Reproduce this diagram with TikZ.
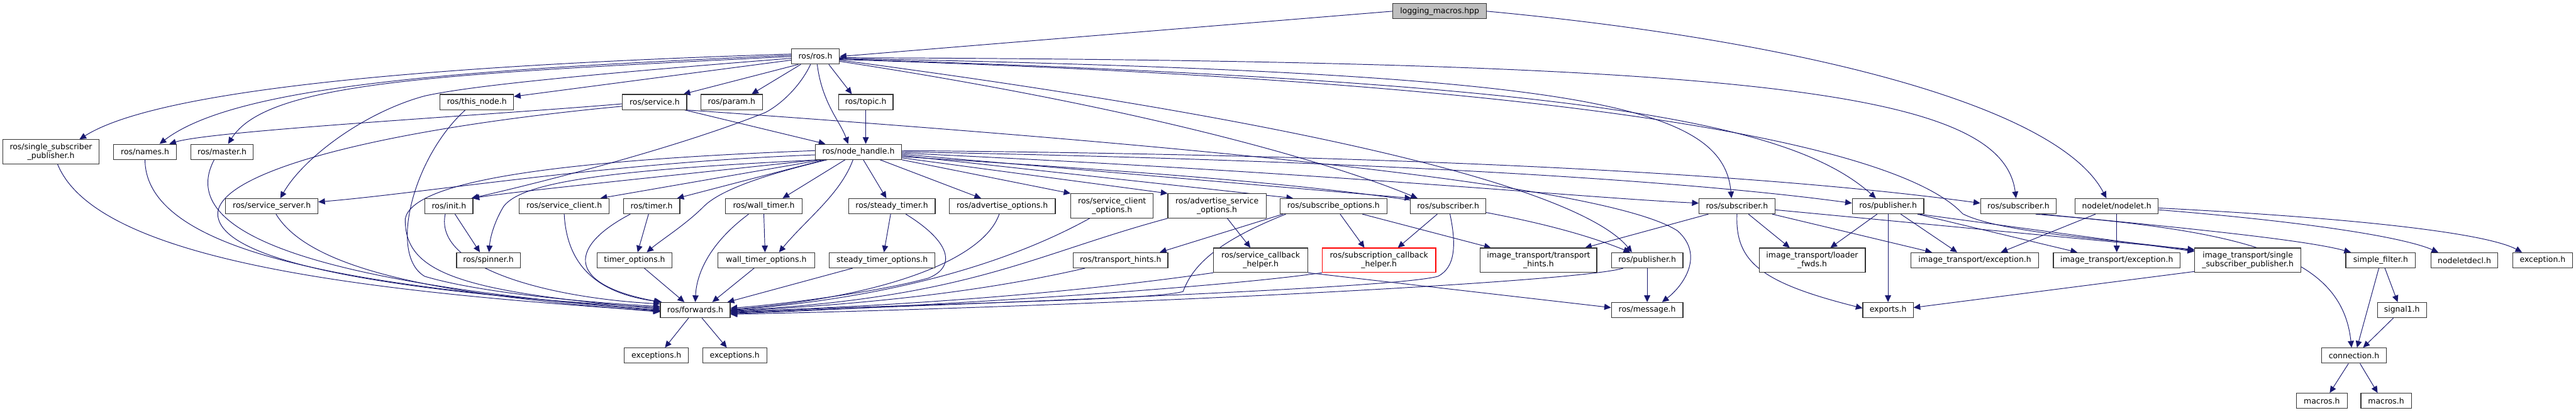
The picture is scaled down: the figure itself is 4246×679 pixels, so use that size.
\documentclass[tikz,border=0pt]{standalone}
\usepackage{fontspec}
\setmainfont{DejaVu Sans}
\usetikzlibrary{arrows.meta,calc}
\definecolor{edgec}{HTML}{191970}
\definecolor{boxgray}{HTML}{BFBFBF}
\pgfdeclarelayer{bg}
\pgfsetlayers{bg,main}
\tikzset{
  box/.style={draw=black!80, fill=white, line width=1.2pt, minimum height=25pt,
    inner xsep=2pt, inner ysep=2pt, align=center,
    font=\fontsize{12.9}{14}\selectfont},
  box2/.style={box, minimum height=40pt},
  edge/.style={draw=edgec, line width=1pt, -{Triangle[length=11pt,width=10pt]}},
}
\begin{document}
\begin{tikzpicture}[x=1pt,y=-1pt]
\useasboundingbox (0,0) rectangle (4246,679);
% row 0-3
\node[box, fill=boxgray, minimum width=154pt] (logging) at (2373,18.5) {logging\_macros.hpp};
\node[box, minimum width=79pt] (rosh) at (1344,93) {ros/ros.h};
\node[box, minimum width=121pt] (thisnode) at (786,168) {ros/this\_node.h};
\node[box, minimum width=106pt] (service) at (1079,168) {ros/service.h};
\node[box, minimum width=101pt] (param) at (1206,168) {ros/param.h};
\node[box, minimum width=90pt] (topic) at (1427,168) {ros/topic.h};
\node[box2, minimum width=159pt] (ssp) at (84,250) {ros/single\_subscriber\\\_publisher.h};
\node[box, minimum width=103pt] (names) at (239,250) {ros/names.h};
\node[box, minimum width=103pt] (master) at (366,250) {ros/master.h};
\node[box, minimum width=142pt] (nh) at (1415,250) {ros/node\_handle.h};
% row 4
\node[box, minimum width=152pt] (sserver) at (448,339.5) {ros/service\_server.h};
\node[box, minimum width=79pt] (init) at (740,339.5) {ros/init.h};
\node[box, minimum width=148pt] (sclient) at (930,339.5) {ros/service\_client.h};
\node[box, minimum width=93pt] (timer) at (1074,339.5) {ros/timer.h};
\node[box, minimum width=127pt] (wtimer) at (1259,339.5) {ros/wall\_timer.h};
\node[box, minimum width=143pt] (stimer) at (1470,339.5) {ros/steady\_timer.h};
\node[box, minimum width=175pt] (advopt) at (1652,339.5) {ros/advertise\_options.h};
\node[box2, minimum width=136pt] (scopt) at (1833,339) {ros/service\_client\\\_options.h};
\node[box2, minimum width=162pt] (asopt) at (2006,339) {ros/advertise\_service\\\_options.h};
\node[box, minimum width=176pt] (subopt) at (2198,339.5) {ros/subscribe\_options.h};
\node[box, minimum width=124pt] (sub1) at (2387,339.5) {ros/subscriber.h};
\node[box, minimum width=125pt] (sub2) at (2863,339.5) {ros/subscriber.h};
\node[box, minimum width=118pt] (pub2) at (3112,339.5) {ros/publisher.h};
\node[box, minimum width=125pt] (sub3) at (3327,339.5) {ros/subscriber.h};
\node[box, minimum width=137pt] (nodelet) at (3489,339.5) {nodelet/nodelet.h};
% row 5
\node[box, minimum width=105pt] (spinner) at (805,428.5) {ros/spinner.h};
\node[box, minimum width=124pt] (topt) at (1046,428.5) {timer\_options.h};
\node[box, minimum width=159pt] (wtopt) at (1263,428.5) {wall\_timer\_options.h};
\node[box, minimum width=174pt] (stopt) at (1454,428.5) {steady\_timer\_options.h};
\node[box, minimum width=156pt] (thints) at (1847,428.5) {ros/transport\_hints.h};
\node[box2, minimum width=155pt] (scbh) at (2078,428.5) {ros/service\_callback\\\_helper.h};
\node[box2, draw=red, minimum width=187pt] (subcbh) at (2273,428.5) {ros/subscription\_callback\\\_helper.h};
\node[box2, minimum width=192pt] (itth) at (2536,428.5) {image\_transport/transport\\\_hints.h};
\node[box, minimum width=118pt] (pub1) at (2715,428.5) {ros/publisher.h};
\node[box2, minimum width=175pt] (itlf) at (2987,428.5) {image\_transport/loader\\\_fwds.h};
\node[box, minimum width=210pt] (itexc1) at (3255,428.5) {image\_transport/exception.h};
\node[box, minimum width=209pt] (itexc2) at (3489,428.5) {image\_transport/exception.h};
\node[box2, minimum width=175pt] (itssp) at (3705,428.5) {image\_transport/single\\\_subscriber\_publisher.h};
\node[box, minimum width=115pt] (sfilter) at (3924,428.5) {simple\_filter.h};
\node[box, minimum width=110pt] (ndecl) at (4062,428.5) {nodeletdecl.h};
\node[box, minimum width=99pt] (exch) at (4191,428.5) {exception.h};
% row 6-8
\node[box, minimum width=115pt] (fwd) at (1146,510.5) {ros/forwards.h};
\node[box, minimum width=118pt] (msg) at (2715,510.5) {ros/message.h};
\node[box, minimum width=83pt] (exports) at (3112,510.5) {exports.h};
\node[box, minimum width=81pt] (signal1) at (3959,510.5) {signal1.h};
\node[box, minimum width=106pt] (exc1) at (1082,585.5) {exceptions.h};
\node[box, minimum width=106pt] (exc2) at (1211,585.5) {exceptions.h};
\node[box, minimum width=106pt] (conn) at (3880,585.5) {connection.h};
\node[box, minimum width=84pt] (mac1) at (3827,660) {macros.h};
\node[box, minimum width=83pt] (mac2) at (3933,660) {macros.h};

\begin{pgfonlayer}{bg}
% logging
\draw[edge] (logging.west) -- (rosh.east);
\draw[edge] (logging.east) .. controls (2950,65) and (3390,170) .. ($(nodelet.north)+(-17,0)$);
% ros.h
\draw[edge] ($(rosh.west)+(0,-4)$) .. controls (700,108) and (260,148) .. ($(ssp.north)+(47,0)$);
\draw[edge] ($(rosh.west)+(0,-2)$) .. controls (760,115) and (390,140) .. ($(names.north)+(24,0)$);
\draw[edge] (rosh.west) .. controls (720,122) and (440,135) .. ($(master.north)+(10,0)$);
\draw[edge] ($(rosh.west)+(0,3)$) .. controls (1000,120) and (780,140) .. (700,158) .. controls (600,185) and (500,260) .. ($(sserver.north)+(14,0)$);
\draw[edge] ($(rosh.west)+(0,6)$) -- ($(thisnode.north east)+(0,4)$);
\draw[edge] ($(rosh.south west)+(12,0)$) -- ($(service.north east)+(-6,0)$);
\draw[edge] ($(rosh.south west)+(16,0)$) -- ($(param.north)+(33,0)$);
\draw[edge] ($(rosh.south east)+(-18,0)$) -- ($(topic.north)+(-23,0)$);
\draw[edge] ($(rosh.south)+(3,0)$) .. controls (1355,170) and (1385,200) .. ($(nh.north)+(-17,0)$);
\draw[edge] ($(rosh.south)+(-8,0)$) .. controls (1320,140) and (1290,170) .. (1262,185) .. controls (1100,250) and (850,310) .. ($(init.north east)+(-3,0)$);
\draw[edge] ($(rosh.east)+(0,8)$) .. controls (1900,180) and (2200,270) .. ($(sub1.north west)+(12,0)$);
\draw[edge] ($(rosh.east)+(0,6)$) .. controls (2300,220) and (2620,330) .. ($(pub1.north)+(-25,0)$);
\draw[edge] ($(rosh.east)+(0,3)$) .. controls (2600,120) and (2840,170) .. ($(sub2.north)+(-9,0)$);
\draw[edge] ($(rosh.east)+(0,4)$) .. controls (2600,135) and (2950,200) .. ($(pub2.north)+(-20,0)$);
\draw[edge] ($(rosh.east)+(0,2)$) .. controls (2900,100) and (3300,150) .. ($(sub3.north)+(-4,0)$);
\draw[edge] ($(rosh.east)+(0,5)$) .. controls (2750,140) and (3150,260) .. (3235,352) .. controls (3300,385) and (3500,395) .. ($(itssp.north west)+(0,5)$);
% node_handle
\draw[edge] ($(nh.west)+(0,5)$) .. controls (1000,268) and (700,318) .. ($(sserver.east)+(0,-7)$);
\draw[edge] ($(nh.south west)+(4,0)$) .. controls (1100,290) and (850,315) .. ($(init.north east)+(-1,0)$);
\draw[edge] ($(nh.south west)+(8,0)$) .. controls (1000,280) and (860,300) .. (830,340) .. controls (815,365) and (808,390) .. ($(spinner.north)+(1,0)$);
\draw[edge] ($(nh.south west)+(12,0)$) -- ($(sclient.north east)+(-15,0)$);
\draw[edge] ($(nh.south west)+(16,0)$) -- ($(timer.north east)+(-5,0)$);
\draw[edge] ($(nh.south west)+(20,0)$) .. controls (1250,290) and (1185,315) .. (1160,340) .. controls (1130,370) and (1090,395) .. ($(topt.north)+(20,0)$);
\draw[edge] ($(nh.south)+(-22,0)$) -- ($(wtimer.north)+(31,0)$);
\draw[edge] ($(nh.south)+(-9,0)$) .. controls (1385,320) and (1330,360) .. ($(wtopt.north)+(21,0)$);
\draw[edge] ($(nh.south)+(8,0)$) -- ($(stimer.north)+(-9,0)$);
\draw[edge] ($(nh.south east)+(-36,0)$) -- ($(advopt.north)+(-35,0)$);
\draw[edge] (nh.south east) -- (scopt.north west);
\draw[edge] ($(nh.east)+(0,10)$) -- (asopt.north west);
\draw[edge] ($(nh.east)+(0,6)$) -- ($(subopt.north west)+(22,0)$);
\draw[edge] ($(nh.east)+(0,4)$) -- ($(sub1.north west)+(2,0)$);
\draw[edge] ($(nh.east)+(0,8)$) .. controls (2000,290) and (2450,320) .. ($(pub1.north)+(-28,0)$);
\draw[edge] ($(nh.east)+(0,2)$) .. controls (2200,285) and (2600,325) .. ($(sub2.west)+(0,-5)$);
\draw[edge] (nh.east) .. controls (2300,265) and (2800,300) .. ($(pub2.west)+(0,-5)$);
\draw[edge] ($(nh.east)+(0,-2)$) .. controls (2300,255) and (2900,285) .. ($(sub3.west)+(0,-5)$);
\draw[edge] ($(nh.west)+(0,-2)$) .. controls (900,265) and (680,300) .. (668,360) .. controls (666,450) and (760,480) .. ($(fwd.west)+(0,-2)$);
% service, topic, this_node
\draw[edge] ($(service.west)+(0,3)$) .. controls (800,190) and (350,215) .. ($(names.north east)+(-12,0)$);
\draw[edge] ($(service.west)+(0,7)$) .. controls (600,215) and (340,290) .. (360,360) .. controls (380,440) and (700,485) .. ($(fwd.west)+(0,-4)$);
\draw[edge] ($(service.south east)+(-4,0)$) -- ($(nh.north west)+(17,0)$);
\draw[edge] ($(service.south east)+(-1,0)$) .. controls (1900,235) and (2640,300) .. (2765,380) .. controls (2810,420) and (2775,470) .. ($(msg.north east)+(-35,0)$);
\draw[edge] (topic.south) -- ($(nh.north)+(12,0)$);
\draw[edge] ($(thisnode.south west)+(42,0)$) .. controls (680,260) and (640,420) .. (700,455) .. controls (800,485) and (1000,500) .. ($(fwd.west)+(0,-6)$);
% into forwards from the left
\draw[edge] ($(ssp.south)+(11,0)$) .. controls (160,430) and (600,480) .. ($(fwd.west)+(0,2)$);
\draw[edge] (names.south) .. controls (240,440) and (700,478) .. (fwd.west);
\draw[edge] ($(master.south)+(-13,0)$) .. controls (270,420) and (700,480) .. ($(fwd.west)+(0,1)$);
\draw[edge] ($(sserver.south)+(7,0)$) .. controls (520,460) and (800,490) .. ($(fwd.west)+(0,3)$);
\draw[edge] ($(init.south west)+(34,0)$) .. controls (715,440) and (900,490) .. ($(fwd.north west)+(0,3)$);
\draw[edge] ($(init.south)+(10,0)$) -- ($(spinner.north)+(-14,0)$);
\draw[edge] (sclient.south) .. controls (935,450) and (1000,485) .. ($(fwd.north west)+(3,0)$);
\draw[edge] ($(timer.south west)+(12,0)$) .. controls (930,410) and (940,470) .. ($(fwd.north west)+(1,0)$);
\draw[edge] ($(timer.south)+(-5,0)$) -- ($(topt.north)+(5,0)$);
\draw[edge] ($(topt.south)+(16,0)$) -- ($(fwd.north)+(-18,0)$);
\draw[edge] (wtimer.south) -- ($(wtopt.north)+(-2,0)$);
\draw[edge] ($(wtimer.south)+(-25,0)$) .. controls (1170,400) and (1148,450) .. (fwd.north);
\draw[edge] ($(wtopt.south)+(-20,0)$) -- ($(fwd.north east)+(-30,0)$);
\draw[edge] ($(stimer.south)+(-2,0)$) -- ($(stopt.north)+(3,0)$);
% into forwards from the right
\draw[edge] ($(stimer.south)+(23,0)$) .. controls (1570,400) and (1575,440) .. (1530,458) .. controls (1450,480) and (1300,500) .. ($(fwd.east)+(0,-3)$);
\draw[edge] ($(stopt.south west)+(39,0)$) -- ($(fwd.north east)+(-5,0)$);
\draw[edge] ($(advopt.south)+(-5,0)$) .. controls (1620,430) and (1450,490) .. ($(fwd.east)+(0,-1)$);
\draw[edge] ($(scopt.south)+(-37,0)$) .. controls (1650,440) and (1450,492) .. (fwd.east);
\draw[edge] (asopt.south west) .. controls (1700,420) and (1600,490) .. ($(fwd.east)+(0,1)$);
\draw[edge] ($(asopt.south)+(17,0)$) -- ($(scbh.north)+(-17,0)$);
\draw[edge] ($(thints.south west)+(20,0)$) .. controls (1600,485) and (1400,502) .. ($(fwd.east)+(0,2)$);
\draw[edge] (scbh.south west) .. controls (1700,492) and (1400,506) .. ($(fwd.east)+(0,3)$);
\draw[edge] (scbh.south east) -- ($(msg.west)+(0,-4)$);
\draw[edge] ($(subopt.south west)+(5,0)$) -- ($(thints.north east)+(-14,0)$);
\draw[edge] ($(subopt.south west)+(10,0)$) .. controls (2000,400) and (1965,440) .. (1950,480) .. controls (1900,495) and (1500,500) .. ($(fwd.east)+(0,4)$);
\draw[edge] ($(subopt.south)+(11,0)$) -- ($(subcbh.north)+(-24,0)$);
\draw[edge] ($(subopt.south east)+(-41,0)$) -- ($(itth.north west)+(18,0)$);
\draw[edge] ($(sub1.south)+(-18,0)$) -- ($(subcbh.north)+(31,0)$);
\draw[edge] ($(sub1.south)+(3,0)$) .. controls (2400,400) and (2400,440) .. (2370,455) .. controls (2300,475) and (1600,500) .. ($(fwd.east)+(0,5)$);
\draw[edge] (subcbh.south west) .. controls (2000,475) and (1500,506) .. ($(fwd.east)+(0,6)$);
\draw[edge] ($(pub1.south west)+(20,0)$) .. controls (2600,465) and (1800,505) .. ($(fwd.east)+(0,7)$);
\draw[edge] (pub1.south) -- (msg.north);
% image_transport side
\draw[edge] ($(sub2.south west)+(16,0)$) -- ($(itth.north east)+(-20,0)$);
\draw[edge] ($(sub2.south)+(19,0)$) -- ($(itlf.north)+(-37,0)$);
\draw[edge] (sub2.south) .. controls (2860,430) and (2900,465) .. ($(exports.west)+(0,-3)$);
\draw[edge] ($(sub2.south east)+(-5,0)$) -- ($(itexc1.north west)+(35,0)$);
\draw[edge] ($(sub2.east)+(0,6)$) -- ($(itssp.north west)+(0,3)$);
\draw[edge] ($(pub2.south)+(-18,0)$) -- ($(itlf.north)+(30,0)$);
\draw[edge] (pub2.south) -- (exports.north);
\draw[edge] ($(pub2.south)+(21,0)$) -- ($(itexc1.north)+(-29,0)$);
\draw[edge] ($(pub2.south east)+(-11,0)$) -- ($(itexc2.north west)+(40,0)$);
\draw[edge] ($(pub2.south east)+(-8,0)$) -- ($(itssp.north west)+(0,6)$);
\draw[edge] ($(itssp.south west)+(0,-2)$) -- ($(exports.east)+(0,-4)$);
\draw[edge] ($(nodelet.south)+(-35,0)$) -- ($(itexc1.north)+(43,0)$);
\draw[edge] (nodelet.south) -- (itexc2.north);
\draw[edge] ($(nodelet.east)+(0,6)$) .. controls (3800,365) and (3960,390) .. ($(ndecl.north)+(-43,0)$);
\draw[edge] ($(nodelet.east)+(0,3)$) .. controls (3900,360) and (4100,385) .. ($(exch.north)+(-34,0)$);
\draw[edge] ($(sub3.south east)+(-25,0)$) .. controls (3600,375) and (3800,395) .. ($(sfilter.north west)+(9,0)$);
\draw[edge] ($(sub3.south east)+(-35,0)$) .. controls (3700,380) and (3860,420) .. ($(conn.north)+(-4,0)$);
\draw[edge] ($(sfilter.south)+(-3,0)$) -- ($(conn.north)+(5,0)$);
\draw[edge] ($(sfilter.south)+(7,0)$) -- ($(signal1.north)+(-7,0)$);
\draw[edge] ($(signal1.south)+(-14,0)$) -- ($(conn.north)+(15,0)$);
\draw[edge] ($(conn.south)+(-9,0)$) -- ($(mac1.north)+(13,0)$);
\draw[edge] ($(conn.south)+(10,0)$) -- ($(mac2.north)+(-14,0)$);
\draw[edge] ($(fwd.south)+(-11,0)$) -- ($(exc1.north)+(14,0)$);
\draw[edge] ($(fwd.south)+(11,0)$) -- ($(exc2.north)+(-13,0)$);
\end{pgfonlayer}
\end{tikzpicture}
\end{document}
